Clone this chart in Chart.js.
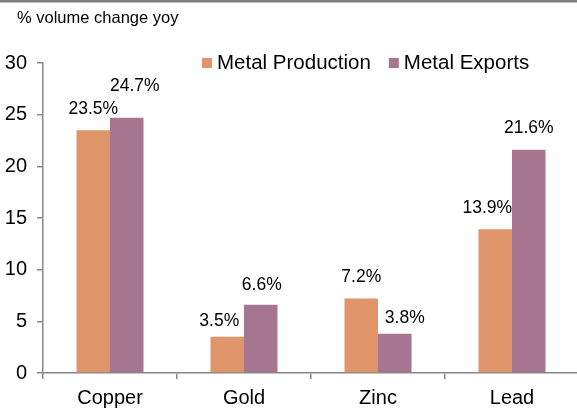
<!DOCTYPE html>
<html>
<head>
<meta charset="utf-8">
<script src="https://cdn.jsdelivr.net/npm/chart.js@4.4.1/dist/chart.umd.min.js"></script>
<style>
  html, body { margin: 0; padding: 0; background: #fff; overflow: hidden; }
  #wrap { width: 577px; height: 411px; overflow: hidden; }
</style>
</head>
<body>
<div id="wrap"><canvas id="metalChart" width="580" height="411"></canvas></div>
<script>
const categories = ['Copper', 'Gold', 'Zinc', 'Lead'];
const productionValues = [23.5, 3.5, 7.2, 13.9];
const exportValues = [24.7, 6.6, 3.8, 21.6];
const yTicks = [0, 5, 10, 15, 20, 25, 30];

// label nudges [dx, gap above bar top]
const productionLabelShift = [[0, 21], [-8, 16], [0, 21], [-8, 21]];
const exportLabelShift = [[8, 32], [1, 20], [10, 16], [0, 22]];

const FONT = 'Liberation Sans, Arial, sans-serif';
const axisGray = '#878787';

const decorPlugin = {
  id: 'decor',
  afterDraw(chart) {
    const ctx = chart.ctx;
    ctx.save();
    // frame line along the top
    ctx.fillStyle = '#808080';
    ctx.fillRect(0, 0, chart.width, 2.5);

    // heading
    ctx.fillStyle = '#000';
    ctx.font = '16.5px ' + FONT;
    ctx.textBaseline = 'middle';
    ctx.textAlign = 'left';
    ctx.fillText('% volume change yoy', 17, 18);

    // legend
    ctx.font = '20.5px ' + FONT;
    let x = 202;
    chart.data.datasets.forEach(ds => {
      ctx.fillStyle = ds.backgroundColor;
      ctx.fillRect(x, 58, 10, 10);
      ctx.fillStyle = '#000';
      ctx.fillText(ds.label, x + 15, 63);
      x += 15 + ctx.measureText(ds.label).width + 18;
    });

    // value labels
    ctx.font = '17.5px ' + FONT;
    ctx.textAlign = 'center';
    const shifts = [productionLabelShift, exportLabelShift];
    chart.data.datasets.forEach((ds, di) => {
      chart.getDatasetMeta(di).data.forEach((bar, i) => {
        const [dx, gap] = shifts[di][i];
        ctx.fillText(ds.data[i].toFixed(1) + '%', bar.x + dx, bar.y - gap);
      });
    });
    ctx.restore();
  }
};

const ctx = document.getElementById('metalChart').getContext('2d');
const metalChart = new Chart(ctx, {
  type: 'bar',
  data: {
    labels: categories,
    datasets: [{
      label: 'Metal Production',
      data: productionValues,
      backgroundColor: '#e0946a',
      borderWidth: 0
    }, {
      label: 'Metal Exports',
      data: exportValues,
      backgroundColor: '#a6758f',
      borderWidth: 0
    }]
  },
  options: {
    responsive: false,
    animation: false,
    layout: { padding: { top: 63, right: 1, left: 0, bottom: 0 } },
    plugins: {
      legend: { display: false },
      title: { display: false },
      tooltip: { enabled: false }
    },
    datasets: {
      bar: { categoryPercentage: 0.5, barPercentage: 1.0 }
    },
    scales: {
      x: {
        offset: true,
        grid: {
          display: true,
          offset: true,
          drawOnChartArea: false,
          drawTicks: true,
          tickLength: 6,
          color: axisGray,
          lineWidth: 1.5
        },
        border: { display: true, color: axisGray, width: 1.5 },
        ticks: {
          color: '#000',
          font: { family: FONT, size: 20 },
          padding: 7,
          maxRotation: 0
        },
        afterFit(scale) { scale.height = 38; }
      },
      y: {
        min: 0,
        max: 30,
        afterBuildTicks(scale) {
          scale.ticks = yTicks.map(v => ({ value: v }));
        },
        grid: {
          display: true,
          drawOnChartArea: false,
          drawTicks: true,
          tickLength: 6,
          color: axisGray,
          lineWidth: 1.5
        },
        border: { display: true, color: axisGray, width: 1.5 },
        ticks: {
          color: '#000',
          font: { family: FONT, size: 20 },
          padding: 10
        },
        afterFit(scale) { scale.width = 43; }
      }
    }
  },
  plugins: [decorPlugin]
});
</script>
</body>
</html>
